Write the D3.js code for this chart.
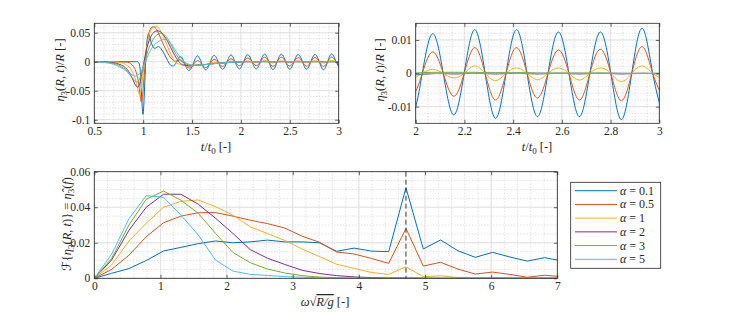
<!DOCTYPE html>
<html><head><meta charset="utf-8">
<script src="https://cdn.jsdelivr.net/npm/d3@7"></script>
<style>
body{margin:0;background:#fff}
svg{display:block}
svg text{font-family:"Liberation Serif","Times New Roman","DejaVu Serif","Noto Serif",serif;fill:#262626}
</style>
</head><body>
<svg id="chart" width="729" height="313"></svg>
<script>
// ---------------- data ----------------
const alphaLabels = ["0.1","0.5","1","2","3","5"];
const colors = ["#0072BD","#D95319","#EDB120","#7E2F8E","#77AC30","#4DBEEE"];

const time = [0.50,0.55,0.60,0.65,0.70,0.75,0.80,0.84,0.87,0.90,0.92,0.94,0.95,0.96,0.97,0.98,0.99,1.00,1.01,1.02,1.03,1.04,1.05,1.06,1.07,1.08,1.10,1.12,1.14,1.16,1.18,1.20,1.22,1.25,1.28,1.31,1.34,
1.382,1.425,1.468,1.511,1.554,1.597,1.640,1.683,1.726,1.769,1.812,1.855,1.898,1.941,1.984,2.027,2.070,2.113,2.156,2.199,2.242,2.285,2.328,2.371,2.414,2.457,2.500,2.543,2.586,2.629,2.672,2.715,2.758,2.801,2.844,2.887,2.930,2.973,3.016];

const eta01 = [0,0,0,0,0,0,0,0,0,0,0,0,-0.001,-0.004,-0.016,-0.045,-0.078,-0.090,-0.062,-0.022,0.014,0.037,0.047,0.047,0.041,0.034,0.026,0.023,0.025,0.026,0.023,0.018,0.012,0.002,-0.006,-0.007,-0.001,
0.009,-0.004,-0.015,-0.004,0.010,-0.002,-0.014,-0.002,0.011,-0.001,-0.013,-0.001,0.0115,-0.0005,-0.0125,0,0.0119,0,-0.0125,0,0.0131,0,-0.0135,0,0.0131,0,-0.013,0,0.0124,0,-0.013,0,0.0124,0,-0.0139,0,0.0135,0,-0.013];
const eta05 = [0,0,0,0,0,0,-0.0003,-0.001,-0.003,-0.008,-0.014,-0.025,-0.034,-0.046,-0.060,-0.069,-0.064,-0.046,-0.025,-0.004,0.015,0.030,0.042,0.050,0.055,0.058,0.060,0.059,0.055,0.048,0.040,0.032,0.025,0.015,0.007,0.002,0.001,
0.003,-0.004,-0.011,-0.006,0.002,-0.004,-0.010,-0.003,0.004,-0.002,-0.008,-0.001,0.005,-0.0005,-0.0068,0,0.0064,0,-0.0069,0,0.0077,0,-0.008,0,0.0077,0,-0.0074,0,0.007,0,-0.008,0,0.0072,0,-0.0082,0,0.008,0,-0.0075];
const eta1 = [0,0,0,0,-0.0003,-0.001,-0.003,-0.007,-0.012,-0.021,-0.030,-0.044,-0.051,-0.056,-0.055,-0.047,-0.034,-0.019,-0.005,0.008,0.020,0.030,0.039,0.046,0.051,0.055,0.059,0.061,0.061,0.058,0.053,0.046,0.038,0.026,0.014,0.004,-0.002,
-0.005,-0.007,-0.008,-0.007,-0.005,-0.005,-0.005,-0.003,-0.001,-0.002,-0.003,-0.001,0.001,0,-0.0014,0,0.0012,0,-0.0014,0,0.0022,0,-0.0022,0,0.0016,0,-0.0019,0,0.0016,0,-0.002,0,0.0016,0,-0.0025,0,0.0022,0,-0.0018];
const eta2 = [0,0,-0.0003,-0.001,-0.002,-0.004,-0.008,-0.014,-0.022,-0.033,-0.040,-0.044,-0.043,-0.040,-0.034,-0.026,-0.017,-0.008,0.001,0.010,0.018,0.025,0.031,0.036,0.040,0.044,0.049,0.052,0.053,0.053,0.051,0.048,0.043,0.035,0.025,0.015,0.006,
-0.003,-0.006,-0.007,-0.0068,-0.0062,-0.0055,-0.0047,-0.004,-0.0033,-0.0027,-0.0022,-0.0017,-0.0012,-0.0008,-0.0005,-0.0003,-0.0001,-0.0001,-0.0002,-0.0001,0,-0.0001,-0.0002,-0.0001,0,-0.0001,-0.0002,-0.0001,0,-0.0001,-0.0002,-0.0001,0,-0.0001,-0.0002,-0.0001,0,-0.0001,-0.0002];
const eta3 = [0,-0.0002,-0.0006,-0.0015,-0.003,-0.006,-0.011,-0.017,-0.024,-0.030,-0.034,-0.035,-0.034,-0.031,-0.027,-0.022,-0.016,-0.010,-0.004,0.002,0.008,0.014,0.019,0.024,0.028,0.032,0.038,0.043,0.046,0.048,0.049,0.048,0.046,0.040,0.031,0.021,0.012,
0.002,-0.003,-0.0055,-0.006,-0.0058,-0.0053,-0.0047,-0.004,-0.0032,-0.0025,-0.0018,-0.0012,-0.0007,-0.0003,0,0.0002,0.0003,0.0003,0.0003,0.0003,0.0003,0.0002,0.0002,0.0002,0.0002,0.0002,0.0001,0.0001,0.0001,0.0001,0.0001,0.0001,0.0001,0.0001,0,0,0,0,0];
const eta5 = [-0.0001,-0.0005,-0.0012,-0.0025,-0.0045,-0.008,-0.013,-0.018,-0.021,-0.024,-0.025,-0.024,-0.023,-0.021,-0.019,-0.016,-0.013,-0.009,-0.005,-0.001,0.003,0.007,0.011,0.015,0.018,0.021,0.026,0.030,0.033,0.035,0.037,0.038,0.0385,0.037,0.032,0.025,0.017,
0.007,-0.0005,-0.0045,-0.006,-0.0062,-0.0058,-0.005,-0.0042,-0.0034,-0.0027,-0.0021,-0.0016,-0.0011,-0.0007,-0.0004,-0.0002,-0.0001,0,0,0,0,0,0,0,0,0,0,0,0,0,0,0,0,0,0,0,0,0,0];

const omega = [0,0.262,0.524,0.785,1.047,1.309,1.571,1.833,2.094,2.356,2.618,2.880,3.142,3.403,3.665,3.927,4.189,4.451,4.712,4.974,5.236,5.498,5.760,6.021,6.283,6.545,6.807,7.069];
const spec01 = [0,0.0028,0.0055,0.0100,0.0154,0.0174,0.0195,0.0210,0.0200,0.0205,0.0215,0.0205,0.0205,0.0200,0.0152,0.0170,0.0153,0.0150,0.0510,0.0165,0.0216,0.0155,0.0118,0.0146,0.0120,0.0097,0.0116,0.0098];
const spec05 = [0,0.0050,0.0130,0.0234,0.0313,0.0350,0.0369,0.0370,0.0350,0.0327,0.0308,0.0283,0.0237,0.0203,0.0148,0.0137,0.0112,0.0084,0.0281,0.0069,0.0090,0.0052,0.0024,0.0035,0.0022,0.0006,0.0017,0.0009];
const spec1 = [0,0.0075,0.0210,0.0310,0.0400,0.0433,0.0441,0.0403,0.0356,0.0290,0.0252,0.0213,0.0165,0.0122,0.0079,0.0056,0.0033,0.0022,0.0065,0.0009,0.0014,0.0005,0.0002,0.0004,0.0002,0.0001,0.0002,0.0001];
const spec2 = [0,0.0103,0.0270,0.0400,0.0473,0.0473,0.0417,0.0338,0.0253,0.0162,0.0113,0.0078,0.0045,0.0027,0.0015,0.0008,0.0004,0.0002,0.0002,0.0001,0,0,0,0,0,0,0,0];
const spec3 = [0,0.0112,0.0300,0.0445,0.0491,0.0440,0.0366,0.0253,0.0146,0.0088,0.0052,0.0030,0.0015,0.0007,0.0003,0.0001,0,0,0,0,0,0,0,0,0,0,0,0];
const spec5 = [0,0.0136,0.0335,0.0465,0.0456,0.0356,0.0244,0.0103,0.0041,0.0022,0.0016,0.0010,0.0006,0.0003,0.0001,0,0,0,0,0,0,0,0,0,0,0,0,0];
const resonance = 4.712;

const etaSeries = [eta01, eta05, eta1, eta2, eta3, eta5];
const specSeries = [spec01, spec05, spec1, spec2, spec3, spec5];

const tlXTicks = [0.5,1,1.5,2,2.5,3], tlXLabels = ["0.5","1","1.5","2","2.5","3"];
const tlYTicks = [-0.1,-0.05,0,0.05], tlYLabels = ["-0.1","-0.05","0","0.05"];
const trXTicks = [2,2.2,2.4,2.6,2.8,3], trXLabels = ["2","2.2","2.4","2.6","2.8","3"];
const trYTicks = [-0.01,0,0.01], trYLabels = ["-0.01","0","0.01"];
const bXTicks = [0,1,2,3,4,5,6,7], bXLabels = ["0","1","2","3","4","5","6","7"];
const bYTicks = [0,0.02,0.04,0.06], bYLabels = ["0","0.02","0.04","0.06"];

// ---------------- drawing ----------------
const FONT = '"Liberation Serif","Times New Roman","DejaVu Serif","Noto Serif",serif';
const svg = d3.select("#chart");
let clipId = 0;

function drawAxes(cfg){
  const g = svg.append("g");
  const x = d3.scaleLinear().domain(cfg.xdom).range([cfg.x0,cfg.x1]);
  const y = d3.scaleLinear().domain(cfg.ydom).range([cfg.y1,cfg.y0]);
  const xm = d3.range(Math.ceil(cfg.xdom[0]/cfg.xminor-1e-6), Math.floor(cfg.xdom[1]/cfg.xminor+1e-6)+1).map(k=>k*cfg.xminor);
  const ym = d3.range(Math.ceil(cfg.ydom[0]/cfg.yminor-1e-6), Math.floor(cfg.ydom[1]/cfg.yminor+1e-6)+1).map(k=>k*cfg.yminor);
  g.append("g").selectAll("line").data(xm).join("line")
    .attr("x1",d=>x(d)).attr("x2",d=>x(d)).attr("y1",cfg.y0).attr("y2",cfg.y1)
    .attr("stroke","#c4c4c4").attr("stroke-width",0.7).attr("stroke-dasharray","1,2");
  g.append("g").selectAll("line").data(ym).join("line")
    .attr("y1",d=>y(d)).attr("y2",d=>y(d)).attr("x1",cfg.x0).attr("x2",cfg.x1)
    .attr("stroke","#c4c4c4").attr("stroke-width",0.7).attr("stroke-dasharray","1,2");
  g.append("g").selectAll("line").data(cfg.xt).join("line")
    .attr("x1",d=>x(d)).attr("x2",d=>x(d)).attr("y1",cfg.y0).attr("y2",cfg.y1)
    .attr("stroke","#dedede").attr("stroke-width",0.8);
  g.append("g").selectAll("line").data(cfg.yt).join("line")
    .attr("y1",d=>y(d)).attr("y2",d=>y(d)).attr("x1",cfg.x0).attr("x2",cfg.x1)
    .attr("stroke","#dedede").attr("stroke-width",0.8);
  const id = "clip"+(clipId++);
  svg.append("clipPath").attr("id",id).append("rect")
    .attr("x",cfg.x0).attr("y",cfg.y0).attr("width",cfg.x1-cfg.x0).attr("height",cfg.y1-cfg.y0);
  const plot = g.append("g").attr("clip-path",`url(#${id})`);
  const fmtX = (d,i)=>cfg.xtl[i], fmtY=(d,i)=>cfg.ytl[i];
  const ax = g.append("g").attr("transform",`translate(0,${cfg.y1})`)
    .call(d3.axisBottom(x).tickValues(cfg.xt).tickFormat(fmtX).tickSizeInner(-3.5).tickSizeOuter(0).tickPadding(4));
  const axT = g.append("g").attr("transform",`translate(0,${cfg.y0})`)
    .call(d3.axisTop(x).tickValues(cfg.xt).tickFormat("").tickSizeInner(-3.5).tickSizeOuter(0));
  const ay = g.append("g").attr("transform",`translate(${cfg.x0},0)`)
    .call(d3.axisLeft(y).tickValues(cfg.yt).tickFormat(fmtY).tickSizeInner(-3.5).tickSizeOuter(0).tickPadding(4));
  const ayR = g.append("g").attr("transform",`translate(${cfg.x1},0)`)
    .call(d3.axisRight(y).tickValues(cfg.yt).tickFormat("").tickSizeInner(-3.5).tickSizeOuter(0));
  [ax,axT,ay,ayR].forEach(a=>{
    a.attr("font-family",FONT);
    a.select(".domain").remove();
    a.selectAll(".tick line").attr("stroke","#262626").attr("stroke-width",0.7);
    a.selectAll(".tick text").style("font-family",FONT).attr("font-size",11.5).attr("fill","#262626");
  });
  g.append("rect").attr("x",cfg.x0).attr("y",cfg.y0).attr("width",cfg.x1-cfg.x0).attr("height",cfg.y1-cfg.y0)
    .attr("fill","none").attr("stroke","#262626").attr("stroke-width",0.8);
  return {x,y,plot,g};
}

function richText(parent, segs, attrs){
  const t = parent.append("text").style("font-family",FONT);
  Object.entries(attrs).forEach(([k,v])=>t.attr(k,v));
  let shift = 0;
  segs.forEach(s=>{
    const sp = t.append("tspan").text(s.t);
    if(s.i) sp.attr("font-style","italic");
    if(s.f) sp.style("font-family",s.f);
    const target = s.sub ? 3 : 0;
    if(target!==shift){ sp.attr("dy", target-shift); shift = target; }
    if(s.sub) sp.attr("font-size","0.72em");
    if(s.ov) sp.attr("text-decoration","overline");
  });
  return t;
}

const A = drawAxes({x0:94.3,x1:338.7,y0:23.3,y1:123.3,xdom:[0.5,3],ydom:[-0.1062,0.0662],
  xt:tlXTicks,xtl:tlXLabels,yt:tlYTicks,ytl:tlYLabels,xminor:0.1,yminor:0.01});
const B = drawAxes({x0:415.7,x1:659.3,y0:23.3,y1:123.3,xdom:[2,3],ydom:[-0.015,0.015],
  xt:trXTicks,xtl:trXLabels,yt:trYTicks,ytl:trYLabels,xminor:0.05,yminor:0.002});
const C = drawAxes({x0:94.3,x1:557.3,y0:171.7,y1:278.3,xdom:[0,7],ydom:[0,0.06],
  xt:bXTicks,xtl:bXLabels,yt:bYTicks,ytl:bYLabels,xminor:0.2,yminor:0.005});

[A,B].forEach(P=>{
  const line = d3.line().x((d,i)=>P.x(time[i])).y(d=>P.y(d)).curve(d3.curveNatural);
  etaSeries.forEach((s,k)=>{
    P.plot.append("path").attr("d",line(s)).attr("fill","none")
      .attr("stroke",colors[k]).attr("stroke-width",1);
  });
});
const sline = d3.line().x((d,i)=>C.x(omega[i])).y(d=>C.y(d));
specSeries.forEach((s,k)=>{
  C.plot.append("path").attr("d",sline(s)).attr("fill","none")
    .attr("stroke",colors[k]).attr("stroke-width",1);
});
C.plot.append("line").attr("x1",C.x(resonance)).attr("x2",C.x(resonance))
  .attr("y1",C.y(0.06)).attr("y2",C.y(0)).attr("stroke","#333").attr("stroke-width",1)
  .attr("stroke-dasharray","5,3");

const lf = {"font-size":12.5,"text-anchor":"middle"};
const etaLabel = [{t:"η",i:1},{t:"3",sub:1},{t:"("},{t:"R",i:1},{t:", "},{t:"t",i:1},{t:")/"},{t:"R",i:1},{t:" [-]"}];
richText(svg, etaLabel, {...lf, transform:"translate(64,70) rotate(-90)"});
richText(svg, etaLabel, {...lf, transform:"translate(384,70) rotate(-90)"});
const tLabel = [{t:"t",i:1},{t:"/"},{t:"t",i:1},{t:"0",sub:1},{t:"  [-]"}];
richText(svg, tLabel, {...lf, x:216, y:151});
richText(svg, tLabel, {...lf, x:537, y:151});
richText(svg, [{t:"ω",i:1},{t:"√"},{t:"R/g",i:1,ov:1},{t:" [-]"}], {...lf, x:325, y:306});
richText(svg, [{t:"ℱ",f:'"DejaVu Serif","DejaVu Sans",serif'},{t:"{"},{t:"η",i:1},{t:"3",sub:1},{t:"("},{t:"R",i:1},{t:", "},{t:"t",i:1},{t:")} = "},{t:"η̂",i:1},{t:"3",sub:1},{t:"("},{t:"f",i:1},{t:")"}],
  {...lf, transform:"translate(71,224) rotate(-90)"});

const lg = svg.append("g");
lg.append("rect").attr("x",570.7).attr("y",182.3).attr("width",90).attr("height",86)
  .attr("fill","#fff").attr("stroke","#262626").attr("stroke-width",0.8);
const ly = d3.scalePoint().domain(alphaLabels).range([190.7,259.3]);
alphaLabels.forEach((a,k)=>{
  lg.append("line").attr("x1",575).attr("x2",617).attr("y1",ly(a)).attr("y2",ly(a))
    .attr("stroke",colors[k]).attr("stroke-width",1);
  richText(lg, [{t:"α",i:1},{t:" = "+a}], {x:620, y:ly(a)+4, "font-size":12});
});
</script>
</body></html>
